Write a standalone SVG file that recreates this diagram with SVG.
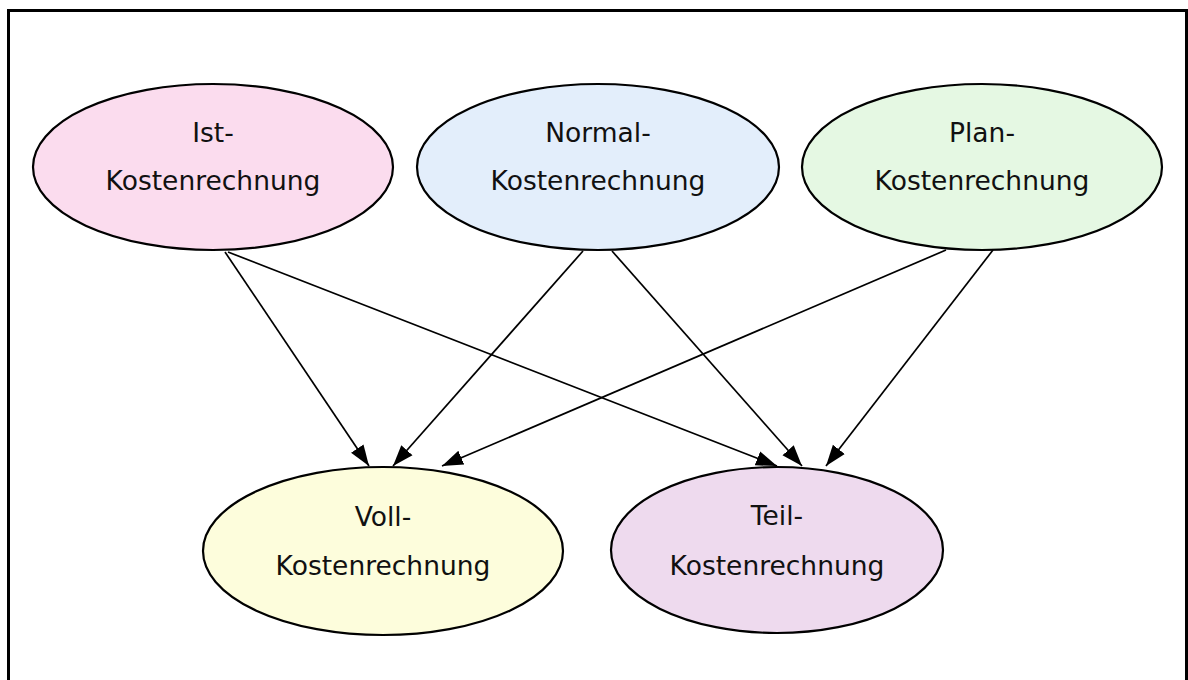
<svg xmlns="http://www.w3.org/2000/svg" width="1188" height="680" viewBox="0 0 1188 680">
  <style>
    .node ellipse { stroke: #000; stroke-width: 2.2; }
    .node text { font-family: "DejaVu Sans", "Liberation Sans", sans-serif; font-size: 26.5px; fill: #111; text-anchor: middle; }
    .edge { stroke: #000; stroke-width: 1.7; fill: none; marker-end: url(#arrow); }
  </style>
  <defs>
    <marker id="arrow" markerUnits="userSpaceOnUse" markerWidth="22" markerHeight="18" viewBox="0 0 22 18" refX="21" refY="9" orient="auto">
      <path d="M0,1.5 L21,9 L0,16.5 Z" fill="#000"/>
    </marker>
  </defs>

  <rect x="8.5" y="10.5" width="1178" height="700" fill="#fff" stroke="#000" stroke-width="3"/>

  <g id="connectors">
    <line class="edge" x1="225" y1="252" x2="369" y2="466"/>
    <line class="edge" x1="583" y1="251" x2="393" y2="466"/>
    <line class="edge" x1="946" y1="250" x2="442" y2="466"/>
    <line class="edge" x1="228" y1="252" x2="777" y2="466"/>
    <line class="edge" x1="612" y1="251" x2="802" y2="466"/>
    <line class="edge" x1="993" y1="250" x2="826" y2="466"/>
  </g>

  <g id="ist" class="node">
    <ellipse cx="213" cy="167" rx="180" ry="83" fill="#fbdcee"/>
    <text x="213" y="142">Ist-</text>
    <text x="213" y="190">Kostenrechnung</text>
  </g>
  <g id="normal" class="node">
    <ellipse cx="598" cy="167" rx="181" ry="83" fill="#e3eefb"/>
    <text x="598" y="142">Normal-</text>
    <text x="598" y="190">Kostenrechnung</text>
  </g>
  <g id="plan" class="node">
    <ellipse cx="982" cy="167" rx="180" ry="83" fill="#e5f8e3"/>
    <text x="982" y="142">Plan-</text>
    <text x="982" y="190">Kostenrechnung</text>
  </g>
  <g id="voll" class="node">
    <ellipse cx="383" cy="551" rx="180" ry="84" fill="#fdfddc"/>
    <text x="383" y="526">Voll-</text>
    <text x="383" y="575">Kostenrechnung</text>
  </g>
  <g id="teil" class="node">
    <ellipse cx="777" cy="550" rx="166" ry="83" fill="#eedaee"/>
    <text x="777" y="525">Teil-</text>
    <text x="777" y="575">Kostenrechnung</text>
  </g>
</svg>
